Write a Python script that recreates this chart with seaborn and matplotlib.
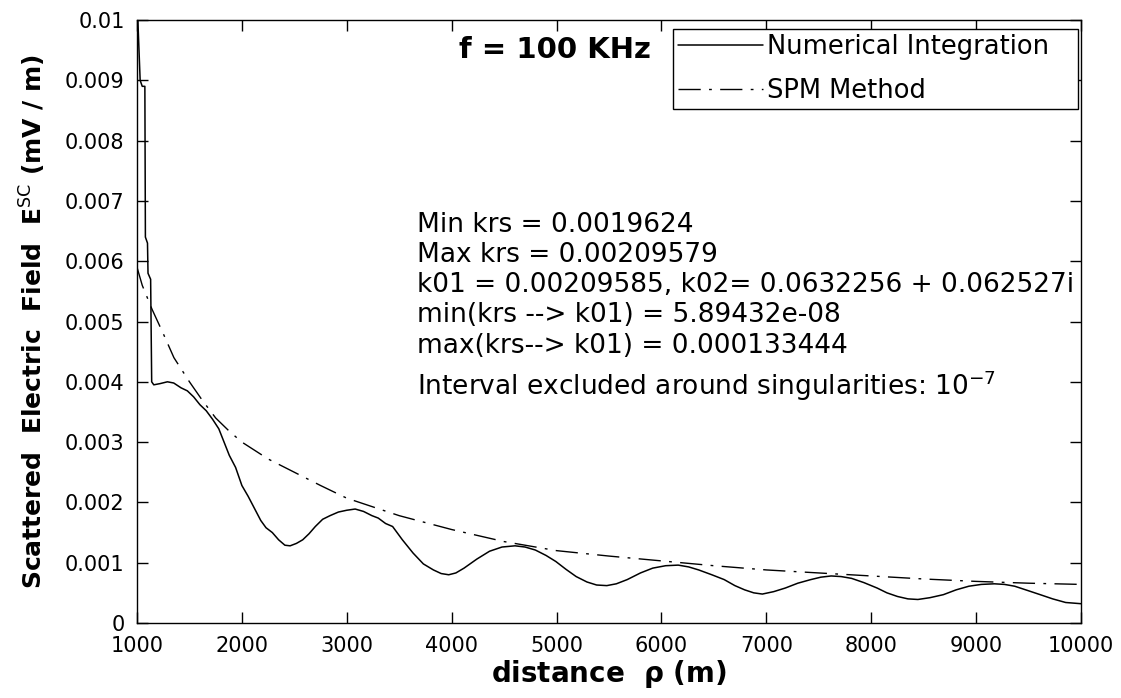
import numpy as np
import pandas as pd
import matplotlib
matplotlib.use("Agg")
import matplotlib.pyplot as plt
import seaborn as sns

# values
num_dist = [1000, 1008, 1030, 1050, 1075, 1080, 1100, 1105, 1130, 1140, 1160, 1220, 1290,
            1350, 1420, 1480, 1540, 1600, 1660, 1720, 1780, 1830, 1880, 1940, 2000,
            2060, 2120, 2180, 2230, 2290, 2350, 2410, 2460, 2520, 2580, 2640, 2700,
            2770, 2840, 2920, 3000, 3080, 3160, 3240, 3300, 3370, 3437, 3530, 3632,
            3730, 3826, 3900, 3972, 4040, 4118, 4240, 4361, 4480, 4604, 4700, 4798,
            4900, 4993, 5090, 5187, 5290, 5382, 5479, 5570, 5674, 5800, 5917, 6040,
            6160, 6260, 6355, 6480, 6598, 6700, 6793, 6880, 6962, 7070, 7181, 7300,
            7424, 7520, 7618, 7713, 7813, 7930, 8056, 8150, 8250, 8350, 8445, 8560,
            8688, 8810, 8931, 9050, 9174, 9270, 9368, 9490, 9611, 9730, 9854, 10000]
num_field = [0.0100, 0.0100, 0.0090, 0.0089, 0.0089, 0.0064, 0.0063, 0.0058, 0.0057, 0.0040,
             0.00395, 0.00397, 0.00400, 0.00398, 0.00390, 0.00385, 0.00375, 0.00362,
             0.00352, 0.00338, 0.00322, 0.00300, 0.00278, 0.00258, 0.00228, 0.00210,
             0.00190, 0.00170, 0.00158, 0.00150, 0.00138, 0.00129, 0.00128, 0.00132,
             0.00138, 0.00148, 0.00160, 0.00172, 0.00178, 0.00184, 0.00187, 0.00189,
             0.00185, 0.00178, 0.00174, 0.00165, 0.00160, 0.00138, 0.00116, 0.00098,
             0.00088, 0.00082, 0.00080, 0.00083, 0.00091, 0.00106, 0.00119, 0.00126,
             0.00128, 0.00126, 0.00121, 0.00112, 0.00102, 0.00089, 0.00077, 0.00068,
             0.00063, 0.00062, 0.00065, 0.00072, 0.00083, 0.00091, 0.00095, 0.00096,
             0.00093, 0.00088, 0.00080, 0.00072, 0.00062, 0.00055, 0.00050, 0.00048,
             0.00052, 0.00058, 0.00066, 0.00072, 0.00076, 0.00078, 0.00077, 0.00074,
             0.00067, 0.00058, 0.00050, 0.00044, 0.00040, 0.00039, 0.00042, 0.00047,
             0.00055, 0.00061, 0.00064, 0.00065, 0.00064, 0.00061, 0.00054, 0.00047,
             0.00040, 0.00034, 0.00032]

spm_dist = [1000, 1050, 1144, 1250, 1352, 1500, 1620, 1750, 1880, 2000, 2250, 2500,
            2750, 3000, 3500, 4000, 4500, 5000, 5500, 6000, 6500, 7000, 7500, 8000,
            8500, 9000, 9500, 10000]
spm_field = [0.0059, 0.0056, 0.0052, 0.0048, 0.0044, 0.0040, 0.0037, 0.0034, 0.00318,
             0.0030, 0.00272, 0.0025, 0.00228, 0.00207, 0.00178, 0.00155, 0.00135,
             0.00120, 0.00111, 0.00103, 0.00095, 0.00088, 0.00083, 0.00078, 0.00073,
             0.00069, 0.00066, 0.00064]

info_lines = [
    "Min krs = 0.0019624",
    "Max krs = 0.00209579",
    "k01 = 0.00209585, k02= 0.0632256 + 0.062527i",
    "min(krs --> k01) = 5.89432e-08",
    "max(krs--> k01) = 0.000133444",
    "Interval excluded around singularities: 10$^{-7}$",
]
info_y = [0.0066, 0.0061, 0.00561, 0.0051, 0.0046, 0.00393]

x_ticks = [1000, 2000, 3000, 4000, 5000, 6000, 7000, 8000, 9000, 10000]
y_ticks = [0, 0.001, 0.002, 0.003, 0.004, 0.005, 0.006, 0.007, 0.008, 0.009, 0.01]
y_tick_labels = ["0", "0.001", "0.002", "0.003", "0.004", "0.005", "0.006",
                 "0.007", "0.008", "0.009", "0.01"]

sns.set_style("ticks")
plt.rcParams["font.family"] = ["DejaVu Sans"]
plt.rcParams["mathtext.fontset"] = "dejavusans"
plt.rcParams["text.color"] = "black"
plt.rcParams["axes.labelcolor"] = "black"
plt.rcParams["xtick.color"] = "black"
plt.rcParams["ytick.color"] = "black"

num_df = pd.DataFrame({"dist": num_dist, "field": num_field})
spm_df = pd.DataFrame({"dist": spm_dist, "field": spm_field})

fig = plt.figure(figsize=(11.21, 6.98), dpi=100)
ax = fig.add_axes([137 / 1121, 1 - 623 / 698, (1081 - 137) / 1121, (623 - 20) / 698])

sns.lineplot(data=num_df, x="dist", y="field", ax=ax, color="black", lw=1.1,
             estimator=None, sort=False, label="Numerical Integration")
sns.lineplot(data=spm_df, x="dist", y="field", ax=ax, color="black", lw=1.0,
             estimator=None, sort=False, label="SPM Method",
             linestyle=(0, (16, 6, 2, 6)))

ax.set_xlim(1000, 10000)
ax.set_ylim(0, 0.01)
ax.set_xticks(x_ticks)
ax.set_xticklabels([str(t) for t in x_ticks])
ax.set_yticks(y_ticks)
ax.set_yticklabels(y_tick_labels)
ax.tick_params(direction="in", length=8, width=1, top=True, right=True,
               labelsize=15, colors="black")
ax.tick_params(axis="x", pad=9)
ax.tick_params(axis="y", pad=9)
for sp in ax.spines.values():
    sp.set_visible(True)
    sp.set_color("black")
    sp.set_linewidth(1.0)

ax.set_xlabel(r"distance  $\mathbf{\rho}$ (m)", fontsize=20, fontweight="bold", labelpad=2)
ax.set_ylabel(r"Scattered  Electric  Field  $\mathbf{E}^{\mathrm{SC}}$ (mV / m)",
              fontsize=18, fontweight="bold", labelpad=12)

ax.text(4070, 0.0095, "f = 100 KHz", fontsize=21, fontweight="bold", va="center", ha="left")
for line, yv in zip(info_lines, info_y):
    ax.text(3669, yv, line, fontsize=19, va="center", ha="left")

# legend box stretched to the width seen in the reference
leg = ax.legend(loc="upper left", bbox_to_anchor=(0.568, 0.4, 0.429, 0.585),
                mode="expand", fontsize=18.5,
                frameon=True, fancybox=False, edgecolor="black", framealpha=1,
                handlelength=3.3, handletextpad=0.15, borderpad=0.2,
                labelspacing=0.7, borderaxespad=0)
leg.get_frame().set_linewidth(1.0)

fig.savefig("out.png", dpi=100, facecolor="white")
